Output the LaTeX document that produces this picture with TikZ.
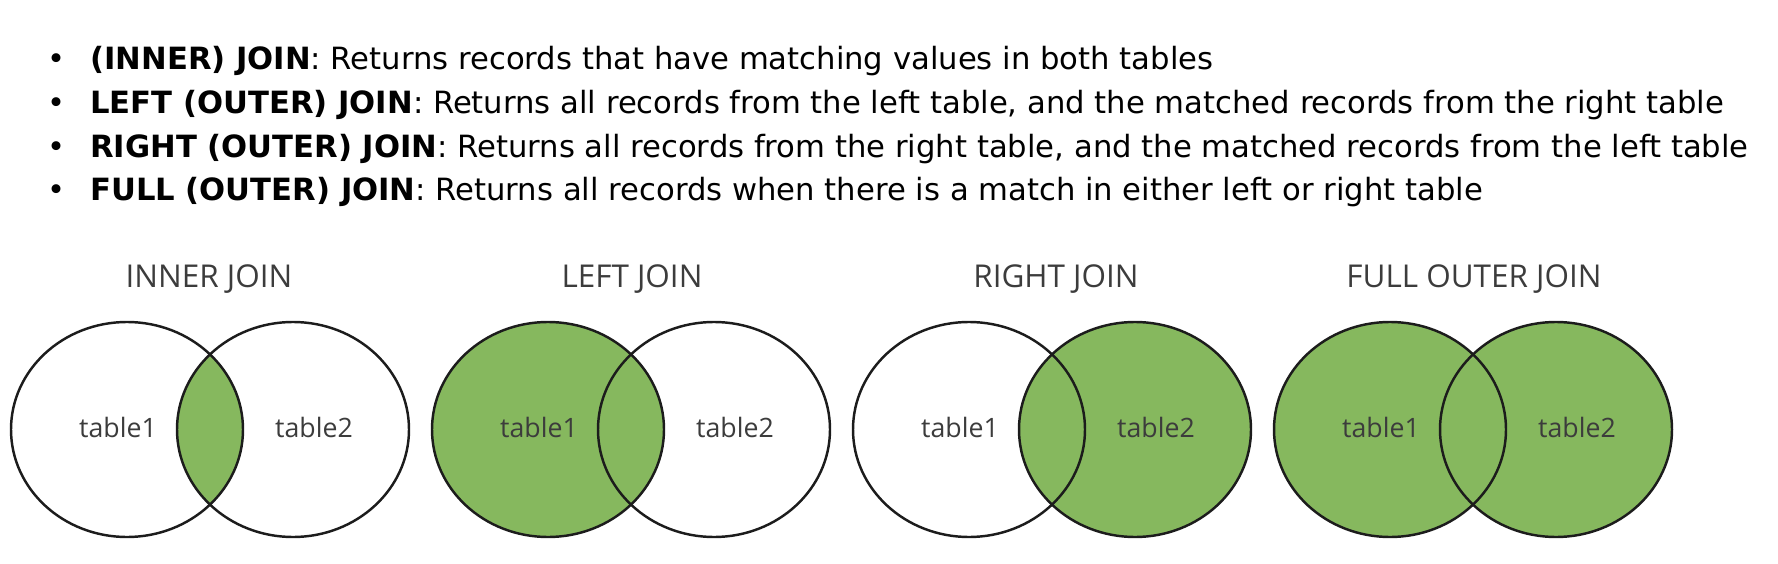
\documentclass[tikz,border=0pt]{standalone}
\usepackage{fontspec}
\setmainfont{DejaVu Sans}
\newfontfamily\vennfont{Open Sans}
\usetikzlibrary{positioning,calc}
\definecolor{joingreen}{RGB}{134,184,94}
\definecolor{rimgray}{RGB}{28,28,28}
\definecolor{labelgray}{RGB}{60,60,60}
\tikzset{tableset/.style={x radius=116,y radius=107.5},
	 rim/.style={draw=rimgray,line width=1.4pt},
	 dot/.style={anchor=base,inner sep=0pt,font=\fontsize{17.4}{20}\selectfont},
	 item/.style={anchor=base west,inner sep=0pt,font=\fontsize{17.45}{20}\selectfont},
	 title/.style={anchor=base,inner sep=0pt,text=labelgray,font=\vennfont\fontsize{17.9}{20}\selectfont},
	 tname/.style={anchor=base,inner sep=0pt,text=labelgray,font=\vennfont\fontsize{15.2}{17}\selectfont}
	 }

\begin{document}
\begin{tikzpicture}[x=0.02cm,y=-0.02cm]
      \useasboundingbox (0,0) rectangle (1778,564);
      % the list
      \node[dot] (d1) at (57,70) {•};
      \node[dot] (d2) at (57,114) {•};
      \node[dot] (d3) at (57,158) {•};
      \node[dot] (d4) at (57,201) {•};
      \node[item] (l1) at (90,70) {\textbf{(INNER) JOIN}: Returns records that have matching values in both tables};
      \node[item] (l2) at (90,114) {\textbf{LEFT (OUTER) JOIN}: Returns all records from the left table, and the matched records from the right table};
      \node[item] (l3) at (90,158) {\textbf{RIGHT (OUTER) JOIN}: Returns all records from the right table, and the matched records from the left table};
      \node[item] (l4) at (90,201) {\textbf{FULL (OUTER) JOIN}: Returns all records when there is a match in either left or right table};
      % centres of the sets
      \coordinate (a1) at (127,429.5);  \coordinate (b1) at (293,429.5);
      \coordinate (a2) at (548,429.5);  \coordinate (b2) at (714,429.5);
      \coordinate (a3) at (969,429.5);  \coordinate (b3) at (1135,429.5);
      \coordinate (a4) at (1390,429.5); \coordinate (b4) at (1556,429.5);
      % inner join
      \begin{scope}
        \clip (a1) ellipse [tableset];
        \fill[joingreen] (b1) ellipse [tableset];
      \end{scope}
      % left join
      \fill[joingreen] (a2) ellipse [tableset];
      % right join
      \fill[joingreen] (b3) ellipse [tableset];
      % full outer join
      \fill[joingreen] (a4) ellipse [tableset] (b4) ellipse [tableset];
      \foreach \i in {1,...,4} {
        \draw[rim] (a\i) ellipse [tableset];
        \draw[rim] (b\i) ellipse [tableset];
        \node[tname] (t1\i) at ($(a\i)+(-9,7.5)$) {table1};
        \node[tname] (t2\i) at ($(b\i)+(21,7.5)$) {table2};
      }
      \node[title] (h1) at (209,287) {INNER JOIN};
      \node[title] (h2) at (632,287) {LEFT JOIN};
      \node[title] (h3) at (1056,287) {RIGHT JOIN};
      \node[title] (h4) at (1474,287) {FULL OUTER JOIN};
  \end{tikzpicture}
\end{document}
